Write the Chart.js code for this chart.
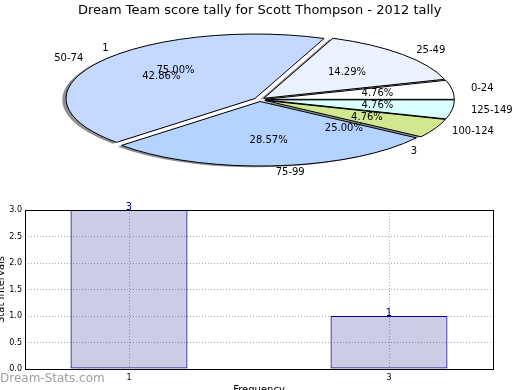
<!DOCTYPE html>
<html>
<head>
<meta charset="utf-8">
<script src="https://cdn.jsdelivr.net/npm/chart.js@4.4.0/dist/chart.umd.min.js"></script>
<style>
  html, body { margin: 0; padding: 0; background: #fff; overflow: hidden; }
  #wrap { position: relative; width: 520px; height: 390px; overflow: hidden; }
  #pieChart { position: absolute; left: 0; top: 0; }
  #barChart { position: absolute; left: 0; top: 195px; }
</style>
</head>
<body>
<div id="wrap">
  <canvas id="pieChart" width="520" height="190"></canvas>
  <canvas id="barChart" width="520" height="205"></canvas>
</div>
<script>
const chartTitle = 'Dream Team score tally for Scott Thompson - 2012 tally';
const scoreRanges = ['0-24', '25-49', '50-74', '75-99', '100-124', '125-149'];
const rangeCounts = [1, 3, 9, 6, 1, 1];
const rangeColors = ['#ffffff', '#eaf1ff', '#c5d8ff', '#b4d3ff', '#d2e890', '#d9ffff'];
const freqLabels = ['1', '3'];
const freqCounts = [3, 1];
const yTicks = [0, 0.5, 1, 1.5, 2, 2.5, 3];

Chart.defaults.font.family = '"DejaVu Sans", sans-serif';
Chart.defaults.color = '#000';

const EXPLODE = 0.03;
const SHADOW = 0.02;

// pie drawn squashed into an ellipse, like the non-equal aspect matplotlib pie
const ellipsePie = {
  id: 'ellipsePie',
  beforeDatasetsDraw(chart) {
    const ctx = chart.ctx;
    const area = chart.chartArea;
    const arcs = chart.getDatasetMeta(0).data;
    const R = arcs[0].outerRadius;
    const cx = arcs[0].x, cy = arcs[0].y;
    const sx = area.width / 2 / R, sy = area.height / 2 / R;
    const pt = (ang, r) => [Math.cos(ang) * r * sx, -Math.sin(ang) * r * sy];
    const midOf = (arc) => (arc.startAngle + arc.endAngle) / 2;

    const place = (dx, dy) => {
      ctx.translate(cx + dx, cy + dy);
      ctx.scale(sx, -sy);
      ctx.translate(-cx, -cy);
    };
    const wedge = (arc, dx, dy) => {
      ctx.save();
      place(dx, dy);
      ctx.beginPath();
      ctx.moveTo(cx, cy);
      ctx.arc(cx, cy, R, arc.startAngle, arc.endAngle);
      ctx.closePath();
      ctx.restore();
    };

    ctx.save();
    // shadows
    ctx.fillStyle = 'rgba(50,52,58,0.55)';
    arcs.forEach(arc => {
      const [dx, dy] = pt(midOf(arc), EXPLODE * R);
      wedge(arc, dx - SHADOW * R * sx, dy + SHADOW * R * sy);
      ctx.fill();
    });
    // fills
    arcs.forEach(arc => {
      const [dx, dy] = pt(midOf(arc), EXPLODE * R);
      ctx.save();
      place(dx, dy);
      arc.draw(ctx);
      ctx.restore();
    });
    // outlines
    ctx.lineWidth = 1;
    ctx.strokeStyle = '#000';
    ctx.lineJoin = 'round';
    arcs.forEach(arc => {
      const [dx, dy] = pt(midOf(arc), EXPLODE * R);
      wedge(arc, dx, dy);
      ctx.stroke();
    });

    // labels
    ctx.font = '10px "DejaVu Sans"';
    ctx.fillStyle = '#000';
    ctx.textBaseline = 'middle';
    const putLabels = (mid, name, pct) => {
      const [ex, ey] = pt(mid, EXPLODE * R);
      const [lx, ly] = pt(mid, 1.1 * R);
      ctx.textAlign = Math.cos(mid) > 0 ? 'left' : 'right';
      ctx.fillText(name, cx + ex + lx, cy + ey + ly);
      const [px, py] = pt(mid, 0.6 * R);
      ctx.textAlign = 'center';
      ctx.fillText(pct, cx + ex + px, cy + ey + py);
    };
    const total = rangeCounts.reduce((a, b) => a + b, 0);
    arcs.forEach((arc, i) => {
      putLabels(midOf(arc), scoreRanges[i], (rangeCounts[i] / total * 100).toFixed(2) + '%');
    });
    // second tally (frequency of values), same pie position
    const fTotal = freqCounts.reduce((a, b) => a + b, 0);
    let a0 = arcs[0].startAngle;
    freqCounts.forEach((v, i) => {
      const a1 = a0 + v / fTotal * Math.PI * 2;
      putLabels((a0 + a1) / 2, freqLabels[i], (v / fTotal * 100).toFixed(2) + '%');
      a0 = a1;
    });
    ctx.restore();
    return false;
  }
};

new Chart(document.getElementById('pieChart'), {
  type: 'pie',
  data: {
    labels: scoreRanges,
    datasets: [{
      data: rangeCounts,
      backgroundColor: rangeColors,
      borderWidth: 0,
      clip: false
    }]
  },
  options: {
    responsive: false,
    animation: false,
    events: [],
    rotation: 90,
    layout: { padding: { left: 70.7, right: 71.3, top: 0, bottom: 25.9 } },
    plugins: {
      legend: { display: false },
      tooltip: { enabled: false },
      title: {
        display: true,
        text: chartTitle,
        color: '#000',
        font: { size: 13, weight: 'normal' },
        padding: { top: 2.5, bottom: 17 }
      }
    }
  },
  plugins: [ellipsePie]
});

// frame, value labels, watermark
const barDecor = {
  id: 'barDecor',
  afterDatasetsDraw(chart) {
    const { ctx, chartArea: a } = chart;
    ctx.save();
    ctx.strokeStyle = '#000';
    ctx.lineWidth = 1;
    ctx.strokeRect(Math.round(a.left) + 0.5, Math.round(a.top) + 0.5, Math.round(a.width), Math.round(a.height));
    ctx.fillStyle = '#000080';
    ctx.font = '10px "DejaVu Sans"';
    ctx.textAlign = 'center';
    ctx.textBaseline = 'alphabetic';
    chart.getDatasetMeta(0).data.forEach((bar, i) => {
      ctx.fillText(String(freqCounts[i]), bar.x, bar.y);
    });
    ctx.fillStyle = '#a0a0a0';
    ctx.font = '12px "DejaVu Sans"';
    ctx.textAlign = 'left';
    ctx.fillText('Dream-Stats.com', 0, 187);
    ctx.restore();
  }
};

new Chart(document.getElementById('barChart'), {
  type: 'bar',
  data: {
    datasets: [{
      data: freqCounts.map((v, i) => ({ x: i, y: v })),
      backgroundColor: 'rgba(0,0,128,0.2)',
      borderColor: '#000080',
      borderWidth: 1,
      borderSkipped: false,
      barPercentage: 0.45,
      categoryPercentage: 1
    }]
  },
  options: {
    responsive: false,
    animation: false,
    events: [],
    layout: { padding: { left: 0, right: 27, top: 15, bottom: 0 } },
    plugins: { legend: { display: false }, tooltip: { enabled: false } },
    scales: {
      x: {
        type: 'linear',
        min: -0.4,
        max: 1.4,
        offset: false,
        afterBuildTicks: (s) => { s.ticks = freqLabels.map((_, i) => ({ value: i })); },
        afterFit: (s) => { s.height = 31; },
        ticks: {
          font: { size: 8 },
          padding: 4,
          callback: (v, i) => freqLabels[i]
        },
        grid: { color: '#aaa', lineWidth: 1, drawTicks: false, offset: false },
        border: { display: false, dash: [1, 2] },
        title: {
          display: true,
          text: 'Frequency',
          font: { size: 10 },
          padding: { top: 0, bottom: 3.7 }
        }
      },
      y: {
        min: 0,
        max: 3,
        afterBuildTicks: (s) => { s.ticks = yTicks.map(v => ({ value: v })); },
        afterFit: (s) => { s.width = 25; },
        ticks: {
          font: { size: 8 },
          padding: 3,
          callback: (v) => Number(v).toFixed(1)
        },
        grid: { color: '#aaa', lineWidth: 1, drawTicks: false },
        border: { display: false, dash: [1, 2] },
        title: {
          display: true,
          text: 'Stat Intervals',
          font: { size: 10 },
          padding: { top: -5, bottom: 0 }
        }
      }
    }
  },
  plugins: [barDecor]
});
</script>
</body>
</html>
